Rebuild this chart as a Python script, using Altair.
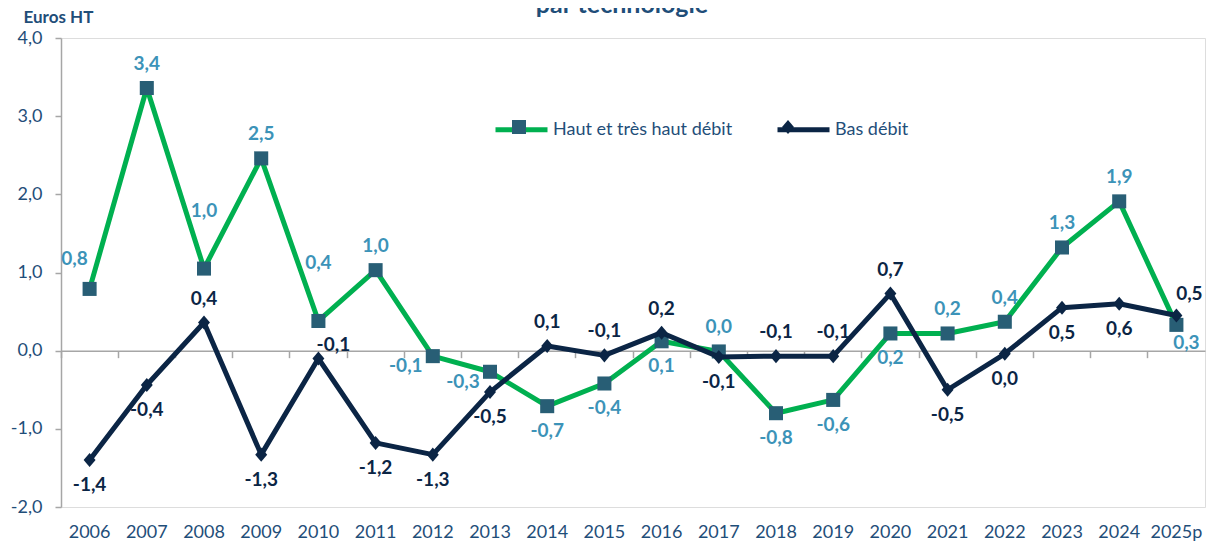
import altair as alt
import pandas as pd

years = ["2006", "2007", "2008", "2009", "2010", "2011", "2012", "2013", "2014", "2015",
         "2016", "2017", "2018", "2019", "2020", "2021", "2022", "2023", "2024", "2025p"]

serie_haut = "Haut et très haut débit"
serie_bas = "Bas débit"

haut = [0.79, 3.36, 1.05, 2.46, 0.38, 1.03, -0.07, -0.27, -0.71, -0.42,
        0.12, -0.01, -0.80, -0.63, 0.22, 0.22, 0.37, 1.32, 1.91, 0.33]
haut_labels = ["0,8", "3,4", "1,0", "2,5", "0,4", "1,0", "-0,1", "-0,3", "-0,7", "-0,4",
               "0,1", "0,0", "-0,8", "-0,6", "0,2", "0,2", "0,4", "1,3", "1,9", "0,3"]
haut_pos = ["al", "a", "aa", "a", "aa", "a", "bl", "bl", "b", "b",
            "b", "a", "b", "b", "b", "a", "a", "a", "a", "br"]

bas = [-1.40, -0.44, 0.36, -1.33, -0.10, -1.18, -1.33, -0.53, 0.06, -0.06,
       0.23, -0.08, -0.07, -0.07, 0.73, -0.50, -0.04, 0.55, 0.60, 0.45]
bas_labels = ["-1,4", "-0,4", "0,4", "-1,3", "-0,1", "-1,2", "-1,3", "-0,5", "0,1", "-0,1",
              "0,2", "-0,1", "-0,1", "-0,1", "0,7", "-0,5", "0,0", "0,5", "0,6", "0,5"]
bas_pos = ["b", "b", "a", "b", "ar", "b", "b", "b", "a", "a",
           "a", "b", "a", "a", "a", "b", "b", "b", "b", "ar2"]

y_ticks = [-2, -1, 0, 1, 2, 3, 4]

rows = []
for s, vals, labs, poss in [(serie_haut, haut, haut_labels, haut_pos),
                             (serie_bas, bas, bas_labels, bas_pos)]:
    for yr, v, l, p in zip(years, vals, labs, poss):
        rows.append({"annee": yr, "valeur": v, "label": l, "pos": p,
                     "serie": s, "serie2": s})
df = pd.DataFrame(rows)

FONT = "Lato"
AXIS_BLUE = "#1F4E79"
GREEN = "#00B050"
NAVY = "#0B2545"
SQUARE = "#285E75"
TEAL_LABEL = "#3C93B8"
GREY = "#A6A6A6"

W, H = 1144, 469
zero_from_bottom = H * 2 / 6

SQ_PATH = "M-0.27,-0.27H0.27V0.27H-0.27Z"
DIA_PATH = "M0,-0.27L0.23,0L0,0.27L-0.23,0Z"
series_order = [serie_haut, serie_bas]

x_enc = alt.X(
    "annee:N", sort=years,
    scale=alt.Scale(type="band", paddingInner=0, paddingOuter=0, domain=years),
    axis=alt.Axis(
        title=None, orient="bottom", offset=-zero_from_bottom,
        domainColor=GREY, domainWidth=1.5, tickColor=GREY, tickWidth=1.5, tickSize=7,
        bandPosition=0, labelPadding=166,
        labelFontSize=18, labelColor=AXIS_BLUE, labelFont=FONT, labelAngle=0,
        labelOverlap=False, grid=False,
    ),
)
y_enc = alt.Y(
    "valeur:Q",
    scale=alt.Scale(domain=[-2, 4], nice=False, zero=False),
    axis=alt.Axis(
        values=y_ticks, grid=False,
        labelExpr="replace(replace(format(datum.value, '.1f'), '.', ','), '\u2212', '-')",
        domainColor=GREY, domainWidth=1.5, tickColor=GREY, tickWidth=1.5, tickSize=6,
        labelPadding=13, labelFontSize=18, labelColor=AXIS_BLUE, labelFont=FONT,
        title="Euros HT", titleAngle=0, titleX=-38, titleY=-21, titleAlign="left",
        titleBaseline="middle", titleFontSize=17, titleFontWeight="bold",
        titleColor=AXIS_BLUE, titleFont=FONT,
    ),
)

legend_common = dict(
    orient="none", legendX=432, legendY=63, direction="horizontal", title=None,
    symbolSize=2704, labelFontSize=18, labelFont=FONT, labelColor=AXIS_BLUE,
    labelOffset=3, columnPadding=34, padding=0, labelLimit=400,
)

color_enc = alt.Color(
    "serie:N", sort=series_order,
    scale=alt.Scale(range=[GREEN, NAVY]),
    legend=alt.Legend(symbolType="stroke", symbolStrokeWidth=5, **legend_common),
)
marker_legend = alt.Legend(symbolStrokeWidth=0, labelOpacity=0, **legend_common)
fill_enc = alt.Fill(
    "serie2:N",
    scale=alt.Scale(domain=series_order, range=[SQUARE, NAVY]),
    legend=marker_legend,
)
shape_enc = alt.Shape(
    "serie2:N",
    scale=alt.Scale(domain=series_order, range=[SQ_PATH, DIA_PATH]),
    legend=marker_legend,
)

base = alt.Chart(df).encode(x=x_enc, y=y_enc)

layers = []
for s in series_order:
    sub = base.transform_filter(alt.datum.serie == s)
    layers.append(sub.mark_line(strokeWidth=5, strokeJoin="round", strokeCap="round")
                  .encode(color=color_enc))
    layers.append(sub.mark_point(filled=True, size=2704, strokeWidth=0, opacity=1)
                  .encode(fill=fill_enc, shape=shape_enc))

offsets = {"a": (0, -24), "b": (0, 25), "aa": (0, -58), "al": (-15, -30),
           "bl": (-27, 10), "br": (10, 18), "ar": (15, -13), "ar2": (13, -21)}

for s, poss, col in [(serie_haut, haut_pos, TEAL_LABEL), (serie_bas, bas_pos, NAVY)]:
    for code in sorted(set(poss)):
        dx, dy = offsets[code]
        layers.append(
            base.transform_filter((alt.datum.serie == s) & (alt.datum.pos == code))
            .mark_text(dx=dx, dy=dy, fontSize=19, fontWeight="bold", font=FONT,
                       color=col, baseline="middle", align="center")
            .encode(text="label:N")
        )

chart = (
    alt.layer(*layers)
    .properties(
        width=W, height=H,
        title=alt.TitleParams("par technologie", fontSize=25, fontWeight="bold",
                              color=AXIS_BLUE, font=FONT, anchor="middle",
                              frame="group", dx=-11, offset=0, baseline="alphabetic",
                              dy=30),
        autosize=alt.AutoSizeParams(type="none"),
        padding={"left": 53, "top": 30, "right": 1, "bottom": 34},
    )
    .configure_view(stroke=None)
    .configure(background="white")
)

chart.save("out.html", embed_options={"renderer": "svg", "actions": False})
